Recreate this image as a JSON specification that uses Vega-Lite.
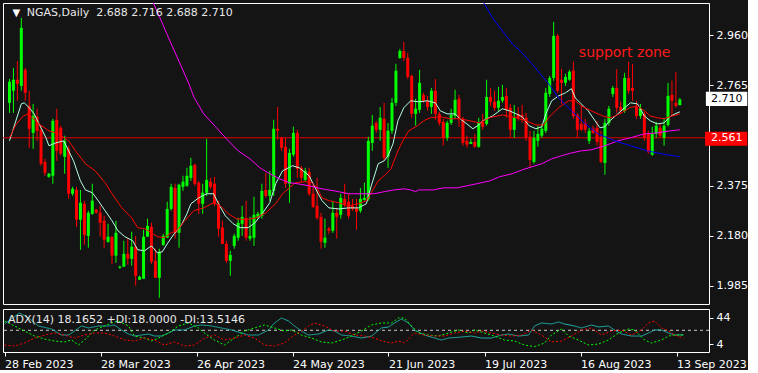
{
"$schema": "https://vega.github.io/schema/vega-lite/v6.json",
"background": "#141414",
"padding": {"left": 2, "top": 2, "right": 0, "bottom": 0},
"spacing": 3,
"resolve": {"scale": {"color": "independent", "strokeDash": "independent", "strokeWidth": "independent"}},
"config": {
  "view": {"stroke": "#ffffff", "strokeWidth": 1},
  "axis": {"domain": false, "grid": false, "tickColor": "#ffffff", "tickSize": 4, "labelColor": "#ffffff", "labelFont": "DejaVu Sans", "labelFontSize": 11}
},
"datasets": {
"candles": [
{"i":0,"o":2.697,"h":2.790,"l":2.658,"c":2.779},
{"i":1,"o":2.744,"h":2.833,"l":2.658,"c":2.787},
{"i":2,"o":2.787,"h":2.860,"l":2.705,"c":2.771},
{"i":3,"o":2.763,"h":3.028,"l":2.744,"c":2.989},
{"i":4,"o":2.825,"h":2.833,"l":2.705,"c":2.736},
{"i":5,"o":2.685,"h":2.744,"l":2.522,"c":2.596},
{"i":6,"o":2.580,"h":2.693,"l":2.518,"c":2.646},
{"i":7,"o":2.643,"h":2.674,"l":2.549,"c":2.588},
{"i":8,"o":2.592,"h":2.608,"l":2.452,"c":2.460},
{"i":9,"o":2.467,"h":2.479,"l":2.413,"c":2.424},
{"i":10,"o":2.409,"h":2.424,"l":2.405,"c":2.421},
{"i":11,"o":2.413,"h":2.635,"l":2.382,"c":2.627},
{"i":12,"o":2.631,"h":2.674,"l":2.471,"c":2.510},
{"i":13,"o":2.600,"h":2.608,"l":2.491,"c":2.499},
{"i":14,"o":2.487,"h":2.569,"l":2.421,"c":2.549},
{"i":15,"o":2.518,"h":2.530,"l":2.323,"c":2.343},
{"i":16,"o":2.343,"h":2.370,"l":2.335,"c":2.362},
{"i":17,"o":2.358,"h":2.370,"l":2.214,"c":2.242},
{"i":18,"o":2.242,"h":2.358,"l":2.125,"c":2.308},
{"i":19,"o":2.304,"h":2.316,"l":2.144,"c":2.183},
{"i":20,"o":2.179,"h":2.277,"l":2.133,"c":2.269},
{"i":21,"o":2.265,"h":2.382,"l":2.261,"c":2.316},
{"i":22,"o":2.281,"h":2.284,"l":2.265,"c":2.269},
{"i":23,"o":2.269,"h":2.296,"l":2.176,"c":2.230},
{"i":24,"o":2.238,"h":2.257,"l":2.133,"c":2.164},
{"i":25,"o":2.156,"h":2.226,"l":2.152,"c":2.176},
{"i":26,"o":2.176,"h":2.176,"l":2.070,"c":2.102},
{"i":27,"o":2.102,"h":2.238,"l":2.074,"c":2.191},
{"i":28,"o":2.055,"h":2.063,"l":2.051,"c":2.059},
{"i":29,"o":2.059,"h":2.160,"l":2.059,"c":2.109},
{"i":30,"o":2.109,"h":2.168,"l":2.067,"c":2.090},
{"i":31,"o":2.090,"h":2.195,"l":2.063,"c":2.137},
{"i":32,"o":2.137,"h":2.179,"l":1.985,"c":2.024},
{"i":33,"o":2.008,"h":2.024,"l":2.008,"c":2.020},
{"i":34,"o":2.012,"h":2.203,"l":2.012,"c":2.176},
{"i":35,"o":2.176,"h":2.246,"l":2.176,"c":2.218},
{"i":36,"o":2.214,"h":2.230,"l":2.070,"c":2.078},
{"i":37,"o":2.082,"h":2.129,"l":2.016,"c":2.016},
{"i":38,"o":2.016,"h":2.129,"l":1.938,"c":2.117},
{"i":39,"o":2.144,"h":2.187,"l":2.140,"c":2.179},
{"i":40,"o":2.172,"h":2.312,"l":2.172,"c":2.284},
{"i":41,"o":2.284,"h":2.382,"l":2.277,"c":2.370},
{"i":42,"o":2.366,"h":2.382,"l":2.168,"c":2.191},
{"i":43,"o":2.191,"h":2.382,"l":2.133,"c":2.378},
{"i":44,"o":2.370,"h":2.413,"l":2.354,"c":2.390},
{"i":45,"o":2.374,"h":2.444,"l":2.370,"c":2.413},
{"i":46,"o":2.405,"h":2.483,"l":2.393,"c":2.452},
{"i":47,"o":2.456,"h":2.460,"l":2.374,"c":2.382},
{"i":48,"o":2.386,"h":2.393,"l":2.265,"c":2.304},
{"i":49,"o":2.304,"h":2.382,"l":2.265,"c":2.347},
{"i":50,"o":2.347,"h":2.557,"l":2.335,"c":2.397},
{"i":51,"o":2.390,"h":2.405,"l":2.362,"c":2.370},
{"i":52,"o":2.382,"h":2.409,"l":2.296,"c":2.304},
{"i":53,"o":2.304,"h":2.316,"l":2.176,"c":2.207},
{"i":54,"o":2.211,"h":2.238,"l":2.148,"c":2.148},
{"i":55,"o":2.148,"h":2.160,"l":2.074,"c":2.082},
{"i":56,"o":2.082,"h":2.121,"l":2.024,"c":2.105},
{"i":57,"o":2.140,"h":2.187,"l":2.129,"c":2.179},
{"i":58,"o":2.172,"h":2.249,"l":2.160,"c":2.230},
{"i":59,"o":2.226,"h":2.296,"l":2.179,"c":2.253},
{"i":60,"o":2.249,"h":2.316,"l":2.160,"c":2.172},
{"i":61,"o":2.168,"h":2.253,"l":2.160,"c":2.179},
{"i":62,"o":2.172,"h":2.331,"l":2.140,"c":2.261},
{"i":63,"o":2.253,"h":2.273,"l":2.246,"c":2.265},
{"i":64,"o":2.257,"h":2.382,"l":2.246,"c":2.354},
{"i":65,"o":2.358,"h":2.424,"l":2.327,"c":2.335},
{"i":66,"o":2.335,"h":2.432,"l":2.316,"c":2.358},
{"i":67,"o":2.354,"h":2.631,"l":2.335,"c":2.596},
{"i":68,"o":2.596,"h":2.681,"l":2.553,"c":2.588},
{"i":69,"o":2.561,"h":2.565,"l":2.510,"c":2.522},
{"i":70,"o":2.526,"h":2.561,"l":2.366,"c":2.382},
{"i":71,"o":2.382,"h":2.518,"l":2.308,"c":2.502},
{"i":72,"o":2.495,"h":2.604,"l":2.487,"c":2.580},
{"i":73,"o":2.580,"h":2.592,"l":2.405,"c":2.440},
{"i":74,"o":2.444,"h":2.452,"l":2.386,"c":2.405},
{"i":75,"o":2.397,"h":2.444,"l":2.390,"c":2.432},
{"i":76,"o":2.428,"h":2.444,"l":2.335,"c":2.343},
{"i":77,"o":2.343,"h":2.378,"l":2.288,"c":2.292},
{"i":78,"o":2.296,"h":2.405,"l":2.242,"c":2.249},
{"i":79,"o":2.253,"h":2.269,"l":2.129,"c":2.156},
{"i":80,"o":2.152,"h":2.246,"l":2.133,"c":2.172},
{"i":81,"o":2.207,"h":2.214,"l":2.187,"c":2.199},
{"i":82,"o":2.199,"h":2.316,"l":2.191,"c":2.269},
{"i":83,"o":2.269,"h":2.288,"l":2.168,"c":2.253},
{"i":84,"o":2.261,"h":2.343,"l":2.246,"c":2.327},
{"i":85,"o":2.323,"h":2.382,"l":2.292,"c":2.300},
{"i":86,"o":2.312,"h":2.343,"l":2.246,"c":2.257},
{"i":87,"o":2.296,"h":2.323,"l":2.277,"c":2.284},
{"i":88,"o":2.288,"h":2.323,"l":2.203,"c":2.273},
{"i":89,"o":2.277,"h":2.366,"l":2.269,"c":2.323},
{"i":90,"o":2.319,"h":2.386,"l":2.316,"c":2.327},
{"i":91,"o":2.323,"h":2.565,"l":2.316,"c":2.549},
{"i":92,"o":2.541,"h":2.650,"l":2.510,"c":2.608},
{"i":93,"o":2.619,"h":2.627,"l":2.580,"c":2.592},
{"i":94,"o":2.592,"h":2.681,"l":2.549,"c":2.639},
{"i":95,"o":2.635,"h":2.697,"l":2.471,"c":2.483},
{"i":96,"o":2.487,"h":2.619,"l":2.444,"c":2.588},
{"i":97,"o":2.588,"h":2.716,"l":2.576,"c":2.697},
{"i":98,"o":2.697,"h":2.849,"l":2.685,"c":2.822},
{"i":99,"o":2.872,"h":2.907,"l":2.868,"c":2.899},
{"i":100,"o":2.899,"h":2.934,"l":2.860,"c":2.872},
{"i":101,"o":2.872,"h":2.892,"l":2.790,"c":2.798},
{"i":102,"o":2.802,"h":2.806,"l":2.639,"c":2.654},
{"i":103,"o":2.654,"h":2.713,"l":2.608,"c":2.674},
{"i":104,"o":2.670,"h":2.825,"l":2.658,"c":2.775},
{"i":105,"o":2.728,"h":2.736,"l":2.697,"c":2.705},
{"i":106,"o":2.705,"h":2.724,"l":2.666,"c":2.681},
{"i":107,"o":2.681,"h":2.755,"l":2.654,"c":2.744},
{"i":108,"o":2.744,"h":2.790,"l":2.631,"c":2.654},
{"i":109,"o":2.654,"h":2.662,"l":2.608,"c":2.619},
{"i":110,"o":2.623,"h":2.635,"l":2.530,"c":2.561},
{"i":111,"o":2.561,"h":2.627,"l":2.549,"c":2.619},
{"i":112,"o":2.619,"h":2.674,"l":2.611,"c":2.650},
{"i":113,"o":2.646,"h":2.748,"l":2.635,"c":2.709},
{"i":114,"o":2.713,"h":2.728,"l":2.604,"c":2.639},
{"i":115,"o":2.635,"h":2.643,"l":2.530,"c":2.541},
{"i":116,"o":2.549,"h":2.569,"l":2.522,"c":2.534},
{"i":117,"o":2.537,"h":2.557,"l":2.537,"c":2.545},
{"i":118,"o":2.545,"h":2.576,"l":2.522,"c":2.526},
{"i":119,"o":2.526,"h":2.639,"l":2.522,"c":2.619},
{"i":120,"o":2.623,"h":2.654,"l":2.592,"c":2.604},
{"i":121,"o":2.615,"h":2.787,"l":2.608,"c":2.720},
{"i":122,"o":2.720,"h":2.755,"l":2.685,"c":2.701},
{"i":123,"o":2.701,"h":2.744,"l":2.666,"c":2.678},
{"i":124,"o":2.678,"h":2.759,"l":2.666,"c":2.705},
{"i":125,"o":2.705,"h":2.767,"l":2.697,"c":2.720},
{"i":126,"o":2.724,"h":2.755,"l":2.639,"c":2.670},
{"i":127,"o":2.678,"h":2.693,"l":2.561,"c":2.592},
{"i":128,"o":2.592,"h":2.689,"l":2.561,"c":2.639},
{"i":129,"o":2.654,"h":2.681,"l":2.627,"c":2.639},
{"i":130,"o":2.650,"h":2.689,"l":2.619,"c":2.639},
{"i":131,"o":2.639,"h":2.658,"l":2.549,"c":2.561},
{"i":132,"o":2.565,"h":2.588,"l":2.448,"c":2.475},
{"i":133,"o":2.467,"h":2.588,"l":2.460,"c":2.561},
{"i":134,"o":2.549,"h":2.608,"l":2.526,"c":2.576},
{"i":135,"o":2.569,"h":2.615,"l":2.561,"c":2.596},
{"i":136,"o":2.588,"h":2.755,"l":2.580,"c":2.736},
{"i":137,"o":2.732,"h":2.802,"l":2.720,"c":2.794},
{"i":138,"o":2.794,"h":3.012,"l":2.783,"c":2.958},
{"i":139,"o":2.958,"h":2.966,"l":2.736,"c":2.744},
{"i":140,"o":2.787,"h":2.829,"l":2.693,"c":2.775},
{"i":141,"o":2.775,"h":2.810,"l":2.763,"c":2.798},
{"i":142,"o":2.787,"h":2.825,"l":2.783,"c":2.818},
{"i":143,"o":2.822,"h":2.857,"l":2.635,"c":2.646},
{"i":144,"o":2.650,"h":2.658,"l":2.561,"c":2.592},
{"i":145,"o":2.615,"h":2.685,"l":2.588,"c":2.592},
{"i":146,"o":2.619,"h":2.635,"l":2.580,"c":2.592},
{"i":147,"o":2.549,"h":2.600,"l":2.537,"c":2.588},
{"i":148,"o":2.596,"h":2.608,"l":2.576,"c":2.580},
{"i":149,"o":2.600,"h":2.627,"l":2.530,"c":2.545},
{"i":150,"o":2.565,"h":2.588,"l":2.463,"c":2.467},
{"i":151,"o":2.463,"h":2.635,"l":2.417,"c":2.619},
{"i":152,"o":2.619,"h":2.685,"l":2.608,"c":2.674},
{"i":153,"o":2.732,"h":2.763,"l":2.720,"c":2.755},
{"i":154,"o":2.755,"h":2.829,"l":2.658,"c":2.678},
{"i":155,"o":2.681,"h":2.701,"l":2.654,"c":2.666},
{"i":156,"o":2.666,"h":2.814,"l":2.658,"c":2.794},
{"i":157,"o":2.794,"h":2.857,"l":2.732,"c":2.744},
{"i":158,"o":2.755,"h":2.849,"l":2.705,"c":2.744},
{"i":159,"o":2.681,"h":2.705,"l":2.635,"c":2.646},
{"i":160,"o":2.646,"h":2.693,"l":2.635,"c":2.674},
{"i":161,"o":2.654,"h":2.662,"l":2.549,"c":2.561},
{"i":162,"o":2.576,"h":2.588,"l":2.499,"c":2.506},
{"i":163,"o":2.495,"h":2.604,"l":2.491,"c":2.576},
{"i":164,"o":2.576,"h":2.623,"l":2.561,"c":2.608},
{"i":165,"o":2.600,"h":2.615,"l":2.561,"c":2.569},
{"i":166,"o":2.561,"h":2.639,"l":2.530,"c":2.608},
{"i":167,"o":2.611,"h":2.775,"l":2.604,"c":2.724},
{"i":168,"o":2.728,"h":2.783,"l":2.646,"c":2.705},
{"i":169,"o":2.697,"h":2.818,"l":2.678,"c":2.685},
{"i":170,"o":2.688,"h":2.716,"l":2.688,"c":2.710}
],
"ma": [
{"i":0,"p":2.549,"s":"w"},{"i":3,"p":2.693,"s":"w"},{"i":3.75,"p":2.697,"s":"w"},{"i":5,"p":2.678,"s":"w"},{"i":6.25,"p":2.654,"s":"w"},{"i":7.5,"p":2.615,"s":"w"},{"i":9.25,"p":2.561,"s":"w"},{"i":10,"p":2.530,"s":"w"},{"i":11.75,"p":2.541,"s":"w"},{"i":13.75,"p":2.549,"s":"w"},{"i":15,"p":2.510,"s":"w"},{"i":16.25,"p":2.471,"s":"w"},{"i":18,"p":2.393,"s":"w"},{"i":19.25,"p":2.358,"s":"w"},{"i":21,"p":2.347,"s":"w"},{"i":22.5,"p":2.316,"s":"w"},{"i":24.25,"p":2.277,"s":"w"},{"i":26,"p":2.238,"s":"w"},{"i":27.5,"p":2.199,"s":"w"},{"i":29.25,"p":2.176,"s":"w"},{"i":31.25,"p":2.160,"s":"w"},{"i":32.5,"p":2.125,"s":"w"},{"i":34.25,"p":2.121,"s":"w"},{"i":36,"p":2.140,"s":"w"},{"i":37.5,"p":2.113,"s":"w"},{"i":38.75,"p":2.117,"s":"w"},{"i":40,"p":2.148,"s":"w"},{"i":41.75,"p":2.187,"s":"w"},{"i":43.5,"p":2.218,"s":"w"},{"i":45,"p":2.265,"s":"w"},{"i":46,"p":2.304,"s":"w"},{"i":48,"p":2.327,"s":"w"},{"i":50,"p":2.343,"s":"w"},{"i":51.75,"p":2.343,"s":"w"},{"i":53,"p":2.304,"s":"w"},{"i":54.75,"p":2.257,"s":"w"},{"i":56.75,"p":2.226,"s":"w"},{"i":58.5,"p":2.211,"s":"w"},{"i":60.5,"p":2.211,"s":"w"},{"i":62.25,"p":2.230,"s":"w"},{"i":64.25,"p":2.269,"s":"w"},{"i":66,"p":2.308,"s":"w"},{"i":67.5,"p":2.382,"s":"w"},{"i":69.25,"p":2.432,"s":"w"},{"i":71.75,"p":2.452,"s":"w"},{"i":73.5,"p":2.444,"s":"w"},{"i":76,"p":2.413,"s":"w"},{"i":77.5,"p":2.366,"s":"w"},{"i":79.25,"p":2.316,"s":"w"},{"i":81,"p":2.288,"s":"w"},{"i":83.5,"p":2.284,"s":"w"},{"i":86,"p":2.288,"s":"w"},{"i":88.5,"p":2.288,"s":"w"},{"i":90.5,"p":2.304,"s":"w"},{"i":91.75,"p":2.374,"s":"w"},{"i":93.5,"p":2.460,"s":"w"},{"i":95,"p":2.471,"s":"w"},{"i":96,"p":2.491,"s":"w"},{"i":97.25,"p":2.537,"s":"w"},{"i":98.5,"p":2.627,"s":"w"},{"i":100,"p":2.678,"s":"w"},{"i":101.75,"p":2.705,"s":"w"},{"i":103.75,"p":2.701,"s":"w"},{"i":106,"p":2.705,"s":"w"},{"i":108,"p":2.697,"s":"w"},{"i":109.25,"p":2.666,"s":"w"},{"i":111,"p":2.654,"s":"w"},{"i":113,"p":2.654,"s":"w"},{"i":114.25,"p":2.635,"s":"w"},{"i":116,"p":2.615,"s":"w"},{"i":117.5,"p":2.596,"s":"w"},{"i":118.75,"p":2.608,"s":"w"},{"i":120,"p":2.627,"s":"w"},{"i":122.5,"p":2.646,"s":"w"},{"i":125,"p":2.674,"s":"w"},{"i":126.75,"p":2.666,"s":"w"},{"i":128.5,"p":2.654,"s":"w"},{"i":130,"p":2.643,"s":"w"},{"i":131.75,"p":2.608,"s":"w"},{"i":133.5,"p":2.596,"s":"w"},{"i":135,"p":2.604,"s":"w"},{"i":136,"p":2.654,"s":"w"},{"i":137.5,"p":2.705,"s":"w"},{"i":139.25,"p":2.724,"s":"w"},{"i":141,"p":2.736,"s":"w"},{"i":142.5,"p":2.752,"s":"w"},{"i":143.5,"p":2.716,"s":"w"},{"i":145,"p":2.693,"s":"w"},{"i":146.75,"p":2.666,"s":"w"},{"i":148.5,"p":2.627,"s":"w"},{"i":149.75,"p":2.600,"s":"w"},{"i":151,"p":2.604,"s":"w"},{"i":152.25,"p":2.627,"s":"w"},{"i":154.25,"p":2.654,"s":"w"},{"i":156,"p":2.678,"s":"w"},{"i":157.5,"p":2.697,"s":"w"},{"i":159.25,"p":2.693,"s":"w"},{"i":161,"p":2.646,"s":"w"},{"i":162.5,"p":2.627,"s":"w"},{"i":164.25,"p":2.615,"s":"w"},{"i":166,"p":2.619,"s":"w"},{"i":167.5,"p":2.643,"s":"w"},{"i":168.75,"p":2.654,"s":"w"},{"i":170,"p":2.662,"s":"w"},
{"i":0,"p":2.561,"s":"r"},{"i":1.75,"p":2.615,"s":"r"},{"i":3.5,"p":2.646,"s":"r"},{"i":4.75,"p":2.654,"s":"r"},{"i":7.5,"p":2.615,"s":"r"},{"i":10,"p":2.588,"s":"r"},{"i":12.5,"p":2.576,"s":"r"},{"i":15,"p":2.549,"s":"r"},{"i":16.75,"p":2.510,"s":"r"},{"i":19.25,"p":2.460,"s":"r"},{"i":21.75,"p":2.432,"s":"r"},{"i":24.25,"p":2.386,"s":"r"},{"i":26,"p":2.343,"s":"r"},{"i":28.5,"p":2.288,"s":"r"},{"i":31,"p":2.249,"s":"r"},{"i":32.5,"p":2.211,"s":"r"},{"i":34.25,"p":2.207,"s":"r"},{"i":36,"p":2.191,"s":"r"},{"i":37.5,"p":2.176,"s":"r"},{"i":39.25,"p":2.172,"s":"r"},{"i":41,"p":2.191,"s":"r"},{"i":42.5,"p":2.199,"s":"r"},{"i":44.25,"p":2.234,"s":"r"},{"i":46.75,"p":2.277,"s":"r"},{"i":49.25,"p":2.288,"s":"r"},{"i":51.75,"p":2.308,"s":"r"},{"i":53.5,"p":2.296,"s":"r"},{"i":55.5,"p":2.265,"s":"r"},{"i":57.5,"p":2.246,"s":"r"},{"i":60,"p":2.242,"s":"r"},{"i":62.5,"p":2.249,"s":"r"},{"i":65,"p":2.269,"s":"r"},{"i":67.5,"p":2.304,"s":"r"},{"i":69.25,"p":2.343,"s":"r"},{"i":71,"p":2.366,"s":"r"},{"i":72.5,"p":2.386,"s":"r"},{"i":75,"p":2.390,"s":"r"},{"i":76.75,"p":2.386,"s":"r"},{"i":78,"p":2.366,"s":"r"},{"i":79.25,"p":2.327,"s":"r"},{"i":81,"p":2.316,"s":"r"},{"i":83.5,"p":2.308,"s":"r"},{"i":86,"p":2.296,"s":"r"},{"i":88.5,"p":2.304,"s":"r"},{"i":90.5,"p":2.316,"s":"r"},{"i":91.75,"p":2.347,"s":"r"},{"i":93.5,"p":2.393,"s":"r"},{"i":95,"p":2.413,"s":"r"},{"i":96.75,"p":2.440,"s":"r"},{"i":98.5,"p":2.510,"s":"r"},{"i":99.75,"p":2.549,"s":"r"},{"i":101.25,"p":2.588,"s":"r"},{"i":103.5,"p":2.608,"s":"r"},{"i":105,"p":2.627,"s":"r"},{"i":106.75,"p":2.639,"s":"r"},{"i":109.25,"p":2.643,"s":"r"},{"i":111.75,"p":2.635,"s":"r"},{"i":114.25,"p":2.635,"s":"r"},{"i":116.75,"p":2.627,"s":"r"},{"i":119.25,"p":2.619,"s":"r"},{"i":121.75,"p":2.639,"s":"r"},{"i":125,"p":2.650,"s":"r"},{"i":128.5,"p":2.639,"s":"r"},{"i":131,"p":2.627,"s":"r"},{"i":133.5,"p":2.611,"s":"r"},{"i":135.5,"p":2.611,"s":"r"},{"i":136.75,"p":2.639,"s":"r"},{"i":139.25,"p":2.678,"s":"r"},{"i":141.75,"p":2.705,"s":"r"},{"i":143.5,"p":2.705,"s":"r"},{"i":145,"p":2.685,"s":"r"},{"i":147.5,"p":2.666,"s":"r"},{"i":149.25,"p":2.654,"s":"r"},{"i":151,"p":2.643,"s":"r"},{"i":152.5,"p":2.639,"s":"r"},{"i":154.75,"p":2.654,"s":"r"},{"i":157.25,"p":2.678,"s":"r"},{"i":159.25,"p":2.685,"s":"r"},{"i":161,"p":2.666,"s":"r"},{"i":162.5,"p":2.646,"s":"r"},{"i":164.25,"p":2.639,"s":"r"},{"i":166,"p":2.635,"s":"r"},{"i":167.5,"p":2.643,"s":"r"},{"i":170,"p":2.654,"s":"r"},
{"i":34.25,"p":3.164,"s":"m"},{"i":36.25,"p":3.094,"s":"m"},{"i":38.5,"p":3.016,"s":"m"},{"i":41,"p":2.927,"s":"m"},{"i":43.5,"p":2.841,"s":"m"},{"i":45.5,"p":2.771,"s":"m"},{"i":46.75,"p":2.720,"s":"m"},{"i":49.25,"p":2.654,"s":"m"},{"i":52.5,"p":2.600,"s":"m"},{"i":55,"p":2.557,"s":"m"},{"i":58,"p":2.510,"s":"m"},{"i":61,"p":2.479,"s":"m"},{"i":63.5,"p":2.444,"s":"m"},{"i":66,"p":2.421,"s":"m"},{"i":68.5,"p":2.401,"s":"m"},{"i":71,"p":2.386,"s":"m"},{"i":73,"p":2.382,"s":"m"},{"i":76,"p":2.374,"s":"m"},{"i":79.25,"p":2.362,"s":"m"},{"i":82.5,"p":2.354,"s":"m"},{"i":86,"p":2.343,"s":"m"},{"i":89.25,"p":2.343,"s":"m"},{"i":92.5,"p":2.343,"s":"m"},{"i":95,"p":2.351,"s":"m"},{"i":97.5,"p":2.358,"s":"m"},{"i":100,"p":2.362,"s":"m"},{"i":101.75,"p":2.358,"s":"m"},{"i":103,"p":2.351,"s":"m"},{"i":103.75,"p":2.358,"s":"m"},{"i":107.5,"p":2.358,"s":"m"},{"i":110,"p":2.366,"s":"m"},{"i":113.5,"p":2.366,"s":"m"},{"i":116,"p":2.374,"s":"m"},{"i":118.5,"p":2.382,"s":"m"},{"i":121.75,"p":2.393,"s":"m"},{"i":124.25,"p":2.409,"s":"m"},{"i":127.5,"p":2.421,"s":"m"},{"i":130,"p":2.436,"s":"m"},{"i":132.5,"p":2.448,"s":"m"},{"i":135,"p":2.460,"s":"m"},{"i":137.5,"p":2.479,"s":"m"},{"i":140,"p":2.491,"s":"m"},{"i":142.5,"p":2.502,"s":"m"},{"i":145,"p":2.510,"s":"m"},{"i":147.5,"p":2.514,"s":"m"},{"i":151,"p":2.530,"s":"m"},{"i":154.25,"p":2.549,"s":"m"},{"i":157.5,"p":2.561,"s":"m"},{"i":161,"p":2.576,"s":"m"},{"i":164.25,"p":2.580,"s":"m"},{"i":167.5,"p":2.588,"s":"m"},{"i":170,"p":2.592,"s":"m"},
{"i":118.75,"p":3.141,"s":"b"},{"i":120,"p":3.094,"s":"b"},{"i":122.5,"p":3.028,"s":"b"},{"i":125,"p":2.977,"s":"b"},{"i":127.5,"p":2.927,"s":"b"},{"i":130,"p":2.892,"s":"b"},{"i":132.5,"p":2.849,"s":"b"},{"i":135,"p":2.802,"s":"b"},{"i":136.75,"p":2.771,"s":"b"},{"i":139.25,"p":2.716,"s":"b"},{"i":142.5,"p":2.666,"s":"b"},{"i":146,"p":2.615,"s":"b"},{"i":149.25,"p":2.576,"s":"b"},{"i":153.5,"p":2.549,"s":"b"},{"i":157.5,"p":2.530,"s":"b"},{"i":161.75,"p":2.510,"s":"b"},{"i":164.25,"p":2.502,"s":"b"},{"i":166.75,"p":2.495,"s":"b"},{"i":170,"p":2.487,"s":"b"}
],
"adx": [
{"i":0,"v":34.5,"s":"adx"},{"i":3.75,"v":51.0,"s":"adx"},{"i":6,"v":43.5,"s":"adx"},{"i":8.5,"v":31.5,"s":"adx"},{"i":11.75,"v":27.0,"s":"adx"},{"i":14.25,"v":17.9,"s":"adx"},{"i":16,"v":17.9,"s":"adx"},{"i":17.5,"v":23.9,"s":"adx"},{"i":19.25,"v":31.5,"s":"adx"},{"i":21,"v":28.5,"s":"adx"},{"i":23.5,"v":31.5,"s":"adx"},{"i":26,"v":31.5,"s":"adx"},{"i":27.5,"v":33.0,"s":"adx"},{"i":29.25,"v":25.5,"s":"adx"},{"i":31,"v":19.4,"s":"adx"},{"i":32.5,"v":16.4,"s":"adx"},{"i":34.25,"v":17.9,"s":"adx"},{"i":36,"v":19.4,"s":"adx"},{"i":37.5,"v":16.4,"s":"adx"},{"i":39.25,"v":16.4,"s":"adx"},{"i":41,"v":20.9,"s":"adx"},{"i":42.5,"v":25.5,"s":"adx"},{"i":45,"v":25.5,"s":"adx"},{"i":47.5,"v":31.5,"s":"adx"},{"i":49.25,"v":33.0,"s":"adx"},{"i":51.75,"v":31.5,"s":"adx"},{"i":54.25,"v":28.5,"s":"adx"},{"i":56.75,"v":25.5,"s":"adx"},{"i":59.25,"v":20.9,"s":"adx"},{"i":61,"v":17.9,"s":"adx"},{"i":63.5,"v":17.9,"s":"adx"},{"i":66,"v":25.5,"s":"adx"},{"i":67.5,"v":36.0,"s":"adx"},{"i":69.25,"v":43.5,"s":"adx"},{"i":71,"v":39.0,"s":"adx"},{"i":72.5,"v":31.5,"s":"adx"},{"i":74.25,"v":23.9,"s":"adx"},{"i":76,"v":17.9,"s":"adx"},{"i":78.5,"v":19.4,"s":"adx"},{"i":81,"v":25.5,"s":"adx"},{"i":82.5,"v":23.9,"s":"adx"},{"i":84.25,"v":17.9,"s":"adx"},{"i":86.75,"v":16.4,"s":"adx"},{"i":89.25,"v":13.4,"s":"adx"},{"i":91.75,"v":16.4,"s":"adx"},{"i":94.25,"v":28.5,"s":"adx"},{"i":96,"v":30.0,"s":"adx"},{"i":97.5,"v":36.0,"s":"adx"},{"i":99.25,"v":42.0,"s":"adx"},{"i":101,"v":36.0,"s":"adx"},{"i":102.5,"v":25.5,"s":"adx"},{"i":105,"v":17.9,"s":"adx"},{"i":107.5,"v":13.4,"s":"adx"},{"i":109.25,"v":10.4,"s":"adx"},{"i":111,"v":13.4,"s":"adx"},{"i":114.25,"v":14.9,"s":"adx"},{"i":116.75,"v":16.4,"s":"adx"},{"i":119.25,"v":13.4,"s":"adx"},{"i":121.75,"v":13.4,"s":"adx"},{"i":124.25,"v":17.9,"s":"adx"},{"i":126,"v":19.4,"s":"adx"},{"i":128.5,"v":16.4,"s":"adx"},{"i":131,"v":17.9,"s":"adx"},{"i":132.5,"v":31.5,"s":"adx"},{"i":134.25,"v":36.0,"s":"adx"},{"i":136.75,"v":34.5,"s":"adx"},{"i":138.5,"v":37.5,"s":"adx"},{"i":140,"v":34.5,"s":"adx"},{"i":142.5,"v":31.5,"s":"adx"},{"i":144.25,"v":28.5,"s":"adx"},{"i":146.75,"v":33.0,"s":"adx"},{"i":148.5,"v":30.0,"s":"adx"},{"i":151,"v":31.5,"s":"adx"},{"i":152.5,"v":25.5,"s":"adx"},{"i":154.25,"v":19.4,"s":"adx"},{"i":156.75,"v":16.4,"s":"adx"},{"i":159.25,"v":16.4,"s":"adx"},{"i":161,"v":20.9,"s":"adx"},{"i":162.5,"v":25.5,"s":"adx"},{"i":164.25,"v":25.5,"s":"adx"},{"i":166,"v":20.9,"s":"adx"},{"i":167.5,"v":17.9,"s":"adx"},{"i":169.75,"v":18.2,"s":"adx"},
{"i":0,"v":39.0,"s":"pdi"},{"i":5,"v":23.9,"s":"pdi"},{"i":7.5,"v":16.4,"s":"pdi"},{"i":10,"v":11.9,"s":"pdi"},{"i":12.5,"v":8.9,"s":"pdi"},{"i":15,"v":7.4,"s":"pdi"},{"i":16.75,"v":10.4,"s":"pdi"},{"i":18.5,"v":2.9,"s":"pdi"},{"i":20,"v":10.4,"s":"pdi"},{"i":22.5,"v":25.5,"s":"pdi"},{"i":25,"v":31.5,"s":"pdi"},{"i":26.75,"v":36.0,"s":"pdi"},{"i":28.5,"v":39.0,"s":"pdi"},{"i":31,"v":31.5,"s":"pdi"},{"i":32.5,"v":16.4,"s":"pdi"},{"i":35,"v":13.4,"s":"pdi"},{"i":36.75,"v":8.9,"s":"pdi"},{"i":38.5,"v":13.4,"s":"pdi"},{"i":41,"v":20.9,"s":"pdi"},{"i":43.5,"v":31.5,"s":"pdi"},{"i":46,"v":36.0,"s":"pdi"},{"i":48.5,"v":28.5,"s":"pdi"},{"i":50,"v":20.9,"s":"pdi"},{"i":52.5,"v":10.4,"s":"pdi"},{"i":55,"v":2.9,"s":"pdi"},{"i":57.5,"v":13.4,"s":"pdi"},{"i":60,"v":23.9,"s":"pdi"},{"i":62.5,"v":28.5,"s":"pdi"},{"i":65,"v":33.0,"s":"pdi"},{"i":67.5,"v":28.5,"s":"pdi"},{"i":70,"v":23.9,"s":"pdi"},{"i":71.75,"v":25.5,"s":"pdi"},{"i":74.25,"v":17.9,"s":"pdi"},{"i":76.75,"v":13.4,"s":"pdi"},{"i":79.25,"v":7.4,"s":"pdi"},{"i":81.75,"v":5.9,"s":"pdi"},{"i":84.25,"v":10.4,"s":"pdi"},{"i":86.75,"v":16.4,"s":"pdi"},{"i":89.25,"v":23.9,"s":"pdi"},{"i":91.75,"v":33.0,"s":"pdi"},{"i":94.25,"v":36.0,"s":"pdi"},{"i":96.75,"v":36.0,"s":"pdi"},{"i":98.5,"v":43.5,"s":"pdi"},{"i":100,"v":43.5,"s":"pdi"},{"i":101.75,"v":31.5,"s":"pdi"},{"i":103.5,"v":20.9,"s":"pdi"},{"i":106,"v":17.9,"s":"pdi"},{"i":108.5,"v":16.4,"s":"pdi"},{"i":111,"v":20.9,"s":"pdi"},{"i":113.5,"v":25.5,"s":"pdi"},{"i":116,"v":20.9,"s":"pdi"},{"i":117.5,"v":25.5,"s":"pdi"},{"i":120,"v":20.9,"s":"pdi"},{"i":122.5,"v":16.4,"s":"pdi"},{"i":125,"v":10.4,"s":"pdi"},{"i":127.5,"v":8.9,"s":"pdi"},{"i":130,"v":2.9,"s":"pdi"},{"i":132.5,"v":0.5,"s":"pdi"},{"i":135,"v":5.9,"s":"pdi"},{"i":136.75,"v":17.9,"s":"pdi"},{"i":139.25,"v":27.0,"s":"pdi"},{"i":141,"v":16.4,"s":"pdi"},{"i":143.5,"v":10.4,"s":"pdi"},{"i":146,"v":2.9,"s":"pdi"},{"i":148.5,"v":4.4,"s":"pdi"},{"i":151,"v":10.4,"s":"pdi"},{"i":153.5,"v":20.9,"s":"pdi"},{"i":156,"v":27.0,"s":"pdi"},{"i":157.5,"v":25.5,"s":"pdi"},{"i":160,"v":10.4,"s":"pdi"},{"i":161.75,"v":5.9,"s":"pdi"},{"i":164.25,"v":10.4,"s":"pdi"},{"i":166,"v":16.4,"s":"pdi"},{"i":167.5,"v":17.9,"s":"pdi"},{"i":169.75,"v":18.0,"s":"pdi"},
{"i":0,"v":2.9,"s":"mdi"},{"i":2.5,"v":1.4,"s":"mdi"},{"i":5,"v":5.9,"s":"mdi"},{"i":7.5,"v":13.4,"s":"mdi"},{"i":10,"v":17.9,"s":"mdi"},{"i":12.5,"v":20.9,"s":"mdi"},{"i":15,"v":17.9,"s":"mdi"},{"i":17.5,"v":13.4,"s":"mdi"},{"i":20,"v":17.9,"s":"mdi"},{"i":22.5,"v":20.9,"s":"mdi"},{"i":25,"v":20.9,"s":"mdi"},{"i":27.5,"v":16.4,"s":"mdi"},{"i":30,"v":10.4,"s":"mdi"},{"i":32.5,"v":8.9,"s":"mdi"},{"i":35,"v":13.4,"s":"mdi"},{"i":37.5,"v":10.4,"s":"mdi"},{"i":40,"v":2.9,"s":"mdi"},{"i":42.5,"v":7.4,"s":"mdi"},{"i":45,"v":1.4,"s":"mdi"},{"i":47.5,"v":2.9,"s":"mdi"},{"i":50,"v":13.4,"s":"mdi"},{"i":52.5,"v":17.9,"s":"mdi"},{"i":55,"v":10.4,"s":"mdi"},{"i":57.5,"v":13.4,"s":"mdi"},{"i":60,"v":17.9,"s":"mdi"},{"i":62.5,"v":13.4,"s":"mdi"},{"i":65,"v":2.9,"s":"mdi"},{"i":67.5,"v":1.4,"s":"mdi"},{"i":70,"v":5.9,"s":"mdi"},{"i":72.5,"v":17.9,"s":"mdi"},{"i":74.25,"v":23.9,"s":"mdi"},{"i":76,"v":31.5,"s":"mdi"},{"i":77.5,"v":36.0,"s":"mdi"},{"i":80,"v":31.5,"s":"mdi"},{"i":82.5,"v":23.9,"s":"mdi"},{"i":85,"v":23.9,"s":"mdi"},{"i":87.5,"v":17.9,"s":"mdi"},{"i":90,"v":16.4,"s":"mdi"},{"i":92.5,"v":13.4,"s":"mdi"},{"i":94.25,"v":8.9,"s":"mdi"},{"i":96.75,"v":5.9,"s":"mdi"},{"i":98.5,"v":8.9,"s":"mdi"},{"i":100,"v":5.9,"s":"mdi"},{"i":102.5,"v":20.9,"s":"mdi"},{"i":105,"v":17.9,"s":"mdi"},{"i":107.5,"v":16.4,"s":"mdi"},{"i":110,"v":16.4,"s":"mdi"},{"i":112.5,"v":20.9,"s":"mdi"},{"i":115,"v":23.9,"s":"mdi"},{"i":117.5,"v":20.9,"s":"mdi"},{"i":119.25,"v":23.9,"s":"mdi"},{"i":121.75,"v":20.9,"s":"mdi"},{"i":124.25,"v":17.9,"s":"mdi"},{"i":126.75,"v":16.4,"s":"mdi"},{"i":129.25,"v":17.9,"s":"mdi"},{"i":131.75,"v":25.5,"s":"mdi"},{"i":134.25,"v":17.9,"s":"mdi"},{"i":136.75,"v":7.4,"s":"mdi"},{"i":139.25,"v":8.9,"s":"mdi"},{"i":141.75,"v":16.4,"s":"mdi"},{"i":144.25,"v":25.5,"s":"mdi"},{"i":146.75,"v":28.5,"s":"mdi"},{"i":149.25,"v":17.9,"s":"mdi"},{"i":151.75,"v":23.9,"s":"mdi"},{"i":154.25,"v":25.5,"s":"mdi"},{"i":156.75,"v":17.9,"s":"mdi"},{"i":159.25,"v":25.5,"s":"mdi"},{"i":161,"v":36.0,"s":"mdi"},{"i":162.5,"v":39.0,"s":"mdi"},{"i":164.25,"v":28.5,"s":"mdi"},{"i":166,"v":23.9,"s":"mdi"},{"i":167.5,"v":17.9,"s":"mdi"},{"i":169.75,"v":13.5,"s":"mdi"}
]
},
"vconcat": [
{
  "width": 706,
  "height": 301,
  "layer": [
    {
      "data": {"values": [{}]},
      "mark": {"type": "rule", "color": "#e00000", "strokeWidth": 1},
      "encoding": {
        "y": {"datum": 2.561, "type": "quantitative", "scale": {"domain": [1.9138, 3.0857], "nice": false, "zero": false}, "axis": {"orient": "right", "values": [1.985, 2.18, 2.375, 2.765, 2.96], "format": ".3f", "title": null, "labelPadding": 3, "labelOverlap": false, "labelFlush": false}}
      }
    },
    {
      "data": {"name": "candles"},
      "mark": {"type": "rule", "strokeWidth": 1},
      "encoding": {
        "x": {"field": "i", "type": "quantitative", "scale": {"domain": [-0.375, 176.125], "nice": false, "zero": false}, "axis": null},
        "y": {"field": "l", "type": "quantitative", "scale": {"domain": [1.9138, 3.0857], "nice": false, "zero": false}, "axis": {"orient": "right", "values": [1.985, 2.18, 2.375, 2.765, 2.96], "format": ".3f", "title": null, "labelPadding": 3, "labelOverlap": false, "labelFlush": false}},
        "y2": {"field": "h"},
        "color": {"condition": {"test": "datum.c >= datum.o", "value": "#00ff00"}, "value": "#ff0000"}
      }
    },
    {
      "data": {"name": "candles"},
      "mark": {"type": "bar", "width": 3},
      "encoding": {
        "x": {"field": "i", "type": "quantitative", "scale": {"domain": [-0.375, 176.125], "nice": false, "zero": false}, "axis": null},
        "y": {"field": "o", "type": "quantitative", "scale": {"domain": [1.9138, 3.0857], "nice": false, "zero": false}, "axis": {"orient": "right", "values": [1.985, 2.18, 2.375, 2.765, 2.96], "format": ".3f", "title": null, "labelPadding": 3, "labelOverlap": false, "labelFlush": false}},
        "y2": {"field": "c"},
        "color": {"condition": {"test": "datum.c >= datum.o", "value": "#00ff00"}, "value": "#ff0000"}
      }
    },
    {
      "data": {"name": "ma"},
      "mark": {"type": "line", "clip": true},
      "encoding": {
        "x": {"field": "i", "type": "quantitative", "scale": {"domain": [-0.375, 176.125], "nice": false, "zero": false}, "axis": null},
        "y": {"field": "p", "type": "quantitative", "scale": {"domain": [1.9138, 3.0857], "nice": false, "zero": false}, "axis": {"orient": "right", "values": [1.985, 2.18, 2.375, 2.765, 2.96], "format": ".3f", "title": null, "labelPadding": 3, "labelOverlap": false, "labelFlush": false}},
        "color": {"field": "s", "type": "nominal", "scale": {"domain": ["w", "r", "m", "b"], "range": ["#b4ffe6", "#ff0000", "#ff00ff", "#0000ff"]}, "legend": null},
        "strokeWidth": {"field": "s", "type": "nominal", "scale": {"domain": ["w", "r", "m", "b"], "range": [1, 1, 1.8, 1]}, "legend": null}
      }
    },
    {
      "data": {"values": [{}]},
      "mark": {"type": "text", "text": "▼", "align": "center", "baseline": "middle", "font": "DejaVu Sans", "fontSize": 10, "color": "#ffffff"},
      "encoding": {
        "x": {"datum": 1.75, "type": "quantitative", "scale": {"domain": [-0.375, 176.125], "nice": false, "zero": false}, "axis": null},
        "y": {"datum": 3.045, "type": "quantitative"}
      }
    },
    {
      "data": {"values": [{}]},
      "mark": {"type": "text", "text": "NGAS,Daily\u00a0 2.688 2.716 2.688 2.710", "align": "left", "baseline": "middle", "font": "DejaVu Sans", "fontSize": 11, "color": "#e8e8e8"},
      "encoding": {
        "x": {"datum": 4.375, "type": "quantitative", "scale": {"domain": [-0.375, 176.125], "nice": false, "zero": false}, "axis": null},
        "y": {"datum": 3.045, "type": "quantitative"}
      }
    },
    {
      "data": {"values": [{}]},
      "mark": {"type": "text", "text": "support zone", "align": "center", "baseline": "middle", "font": "DejaVu Sans", "fontSize": 14, "color": "#ff1a1a"},
      "encoding": {
        "x": {"datum": 156, "type": "quantitative", "scale": {"domain": [-0.375, 176.125], "nice": false, "zero": false}, "axis": null},
        "y": {"datum": 2.892, "type": "quantitative"}
      }
    },
    {
      "data": {"values": [{}]},
      "mark": {"type": "rect", "color": "#ff0000", "clip": false},
      "encoding": {
        "x": {"datum": 176.4, "type": "quantitative", "scale": {"domain": [-0.375, 176.125], "nice": false, "zero": false}, "axis": null},
        "x2": {"datum": 187.1},
        "y": {"datum": 2.584, "type": "quantitative"},
        "y2": {"datum": 2.530}
      }
    },
    {
      "data": {"values": [{}]},
      "mark": {"type": "text", "text": "2.561", "align": "left", "baseline": "middle", "font": "DejaVu Sans", "fontSize": 11, "color": "#ffffff", "clip": false},
      "encoding": {
        "x": {"datum": 177.9, "type": "quantitative", "scale": {"domain": [-0.375, 176.125], "nice": false, "zero": false}, "axis": null},
        "y": {"datum": 2.559, "type": "quantitative"}
      }
    },
    {
      "data": {"values": [{}]},
      "mark": {"type": "rect", "color": "#ffffff", "clip": false},
      "encoding": {
        "x": {"datum": 176.6, "type": "quantitative", "scale": {"domain": [-0.375, 176.125], "nice": false, "zero": false}, "axis": null},
        "x2": {"datum": 187.1},
        "y": {"datum": 2.740, "type": "quantitative"},
        "y2": {"datum": 2.685}
      }
    },
    {
      "data": {"values": [{}]},
      "mark": {"type": "text", "text": "2.710", "align": "left", "baseline": "middle", "font": "DejaVu Sans", "fontSize": 11, "color": "#000000", "clip": false},
      "encoding": {
        "x": {"datum": 177.9, "type": "quantitative", "scale": {"domain": [-0.375, 176.125], "nice": false, "zero": false}, "axis": null},
        "y": {"datum": 2.711, "type": "quantitative"}
      }
    }
  ]
},
{
  "width": 706,
  "height": 43,
  "layer": [
    {
      "data": {"values": [{}]},
      "mark": {"type": "rule", "color": "#c8c8c8", "strokeWidth": 1, "strokeDash": [3, 3]},
      "encoding": {
        "y": {"datum": 25, "type": "quantitative", "scale": {"domain": [-7.58, 56.98], "nice": false, "zero": false}, "axis": {"orient": "right", "values": [4, 25, 44], "format": "d", "title": null, "labelPadding": 3, "labelOverlap": false, "labelFlush": false}}
      }
    },
    {
      "data": {"name": "adx"},
      "mark": {"type": "line", "strokeWidth": 1, "clip": true},
      "encoding": {
        "x": {"field": "i", "type": "quantitative", "scale": {"domain": [-0.375, 176.125], "nice": false, "zero": false}, "axis": {"orient": "bottom", "values": [0, 24, 48, 72, 96, 120, 144, 168], "labelExpr": "datum.value==0?'28 Feb 2023':datum.value==24?'28 Mar 2023':datum.value==48?'26 Apr 2023':datum.value==72?'24 May 2023':datum.value==96?'21 Jun 2023':datum.value==120?'19 Jul 2023':datum.value==144?'16 Aug 2023':'13 Sep 2023'", "title": null, "labelAlign": "left", "labelPadding": 2, "labelOverlap": false, "labelFlush": false, "labelBound": false}},
        "y": {"field": "v", "type": "quantitative", "scale": {"domain": [-7.58, 56.98], "nice": false, "zero": false}, "axis": {"orient": "right", "values": [4, 25, 44], "format": "d", "title": null, "labelPadding": 3, "labelOverlap": false, "labelFlush": false}},
        "color": {"field": "s", "type": "nominal", "scale": {"domain": ["adx", "pdi", "mdi"], "range": ["#20b2aa", "#00ff00", "#ff0000"]}, "legend": null},
        "strokeDash": {"field": "s", "type": "nominal", "scale": {"domain": ["adx", "pdi", "mdi"], "range": [[1, 0], [2, 2], [2, 2]]}, "legend": null}
      }
    },
    {
      "data": {"values": [{}]},
      "mark": {"type": "text", "text": "ADX(14) 18.1652 +DI:18.0000 -DI:13.5146", "align": "left", "baseline": "middle", "font": "DejaVu Sans", "fontSize": 11, "color": "#e8e8e8"},
      "encoding": {
        "x": {"datum": 0.875, "type": "quantitative"},
        "y": {"datum": 40.9, "type": "quantitative"}
      }
    }
  ]
}
]
}
